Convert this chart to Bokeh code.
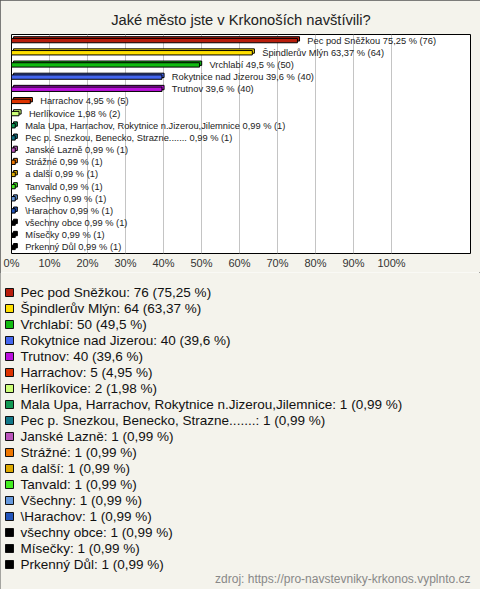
from bokeh.plotting import figure
from bokeh.layouts import column
from bokeh.models import ColumnDataSource, Range1d, FixedTicker, PrintfTickFormatter
from bokeh.transform import dodge
from bokeh.core.properties import value
from bokeh.embed import file_html
from bokeh.resources import INLINE

title = "Jaké město jste v Krkonoších navštívili?"
source_note = "zdroj: https://pro-navstevniky-krkonos.vyplnto.cz"

names = [
    "Pec pod Sněžkou", "Špindlerův Mlýn", "Vrchlabí", "Rokytnice nad Jizerou", "Trutnov",
    "Harrachov", "Herlíkovice", "Mala Upa, Harrachov, Rokytnice n.Jizerou,Jilemnice",
    "Pec p. Snezkou, Benecko, Strazne.......", "Janské Lazně", "Strážné", "a další",
    "Tanvald", "Všechny", "\\Harachov", "všechny obce", "Mísečky", "Prkenný Důl",
]
counts = [76, 64, 50, 40, 40, 5, 2, 1, 1, 1, 1, 1, 1, 1, 1, 1, 1, 1]
pcts = [75.25, 63.37, 49.5, 39.6, 39.6, 4.95, 1.98, 0.99, 0.99, 0.99, 0.99, 0.99,
        0.99, 0.99, 0.99, 0.99, 0.99, 0.99]
colors = ["#b81d0c", "#ffe000", "#11bb11", "#4466ee", "#bb11dd", "#dd3300", "#ccff77",
          "#119955", "#117788", "#bb55bb", "#ee7700", "#ddaa00", "#44ee22", "#6699dd",
          "#2255bb", "#000000", "#000000", "#000000"]
ticks = [0, 10, 20, 30, 40, 50, 60, 70, 80, 90, 100]


def fmt(v):
    s = f"{v:.2f}".rstrip("0").rstrip(".")
    return s.replace(".", ",")


bar_labels = [f"{n} {fmt(p)} % ({c})" for n, p, c in zip(names, pcts, counts)]
legend_labels = [f"{n}: {c} ({fmt(p)} %)" for n, p, c in zip(names, pcts, counts)]
rows = list(range(len(names)))

src = ColumnDataSource(dict(y=rows, pct=pcts, color=colors, label=bar_labels,
                            legend=legend_labels))

FONT = "Liberation Sans"
BG = "#f4f3ec"
W = 480
H1 = 272
H2 = 317

# ---------------- bar chart ----------------
p = figure(width=W, height=H1, output_backend="svg", toolbar_location=None,
           x_range=Range1d(0, 120.79), y_range=Range1d(len(names) - 0.5, -0.5),
           y_axis_location=None,
           min_border_left=11, min_border_right=10, min_border_top=34, min_border_bottom=19,
           background_fill_color="white", border_fill_color=BG)

p.title.text = title
p.title.align = "center"
p.title.text_font = FONT
p.title.text_font_size = "14.7px"
p.title.text_font_style = "normal"
p.title.text_color = "#222222"
p.title.standoff = 13

p.outline_line_color = "black"
p.outline_line_width = 1

p.xgrid.ticker = FixedTicker(ticks=ticks[1:])
p.xgrid.grid_line_color = "#c4c4c4"
p.ygrid.visible = False

p.xaxis.ticker = FixedTicker(ticks=ticks)
p.xaxis.formatter = PrintfTickFormatter(format="%d%%")
p.xaxis.axis_line_color = None
p.xaxis.major_tick_line_color = None
p.xaxis.minor_tick_line_color = None
p.xaxis.major_tick_out = 0
p.xaxis.major_tick_in = 0
p.xaxis.major_label_text_font = FONT
p.xaxis.major_label_text_font_size = "11px"
p.xaxis.major_label_text_color = "#333333"
p.xaxis.major_label_standoff = 3

# 3D-ish back face, then front face
p.hbar(y=dodge("y", -0.14), left=0.55, right=dodge("pct", 0.55), height=0.36,
       fill_color="color", line_color="black", line_width=1, source=src)
p.hbar(y="y", left=0, right="pct", height=0.36,
       fill_color="color", line_color="black", line_width=1, source=src)

p.text(x=dodge("pct", 2.6), y="y", text="label", source=src,
       text_font=value(FONT), text_font_size="9.3px", text_baseline="middle",
       text_color="#222222")

# ---------------- legend ----------------
q = figure(width=W, height=H2, output_backend="svg", toolbar_location=None,
           x_range=Range1d(0, W), y_range=Range1d(H2 / 16 - 1.25, -1.25),
           x_axis_location=None, y_axis_location=None,
           min_border_left=0, min_border_right=0, min_border_top=0, min_border_bottom=0,
           background_fill_color=BG, border_fill_color=BG)
q.outline_line_color = None
q.xgrid.visible = False
q.ygrid.visible = False

for fig in (p, q):
    if "frame_align" in fig.properties():
        fig.frame_align = False

q.rect(x=9, y="y", width=8, height=8, width_units="screen", height_units="screen",
       fill_color="color", line_color="#111111", line_width=1, source=src)
q.text(x=20, y="y", text="legend", source=src,
       text_font=value(FONT), text_font_size="13.5px", text_baseline="middle",
       text_color="#111111")
q.text(x=[470], y=[17.875], text=[source_note], text_align="right", text_baseline="middle",
       text_font=value(FONT), text_font_size="12px", text_color="#888888")

layout = column(p, q, spacing=0,
                styles={"outline": "1px solid #555555", "outline-offset": "-1px"})

open("out.html", "w").write(file_html(layout, INLINE))
